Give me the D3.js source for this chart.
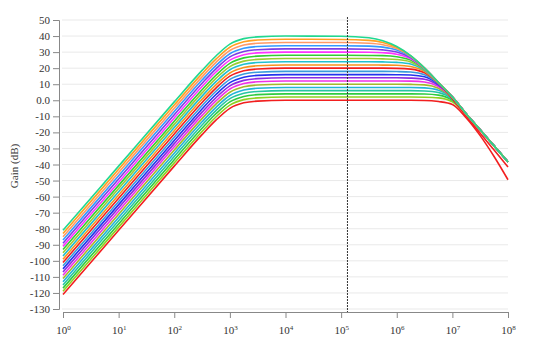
<!DOCTYPE html>
<meta charset="utf-8">
<style>
  body { margin: 0; background: #fff; }
  .axis text { font-family: "Liberation Serif", serif; font-size: 11px; fill: #333; }
  .axis path, .axis line { stroke: #888; }
  .grid line { stroke: #e9e9e9; }
</style>
<body>
<div id="vis"></div>
<script src="https://cdn.jsdelivr.net/npm/d3@7/dist/d3.min.js"></script>
<script>

const width = 550,
    height = 341;

// frequency grid (Hz) shared by all curves
const freqs = [1, 10, 100, 316, 562, 1000, 1778, 3162, 1e4, 1e5, 3.16e5, 5.62e5,
  1e6, 1.78e6, 3.16e6, 5.62e6, 1e7, 1.78e7, 3.16e7, 5.62e7, 1e8];

// gain curves in dB, one per closed-loop gain setting
const g00 = [-121, -81, -41, -21.4, -12.4, -5.0, -1.6, -0.5, 0, 0, 0, 0, 0, 0, -0.1, -0.8, -2.6, -11.0, -22.0, -35.0, -49.5];
const g02 = [-119, -79, -39, -19.4, -10.4, -3.0, 0.4, 1.5, 2, 2, 2, 2, 2.0, 2.0, 1.9, 1.5, -1.0, -8.9, -18.5, -28.4, -38.4];
const g04 = [-117, -77, -37, -17.4, -8.4, -1.0, 2.4, 3.5, 4, 4, 4, 4, 4.0, 4.0, 3.9, 3.2, 0.0, -8.7, -18.5, -28.4, -38.4];
const g06 = [-115, -75, -35, -15.4, -6.4, 1.0, 4.4, 5.5, 6, 6, 6, 6, 6.0, 6.0, 5.8, 4.8, 0.6, -8.6, -18.5, -28.4, -38.4];
const g08 = [-113, -73, -33, -13.4, -4.4, 3.0, 6.4, 7.5, 8, 8, 8, 8, 8.0, 8.0, 7.7, 6.3, 1.1, -8.6, -18.4, -28.4, -38.4];
const g10 = [-111, -71, -31, -11.4, -2.4, 5.0, 8.4, 9.5, 10, 10, 10, 10, 10.0, 9.9, 9.6, 7.5, 1.4, -8.5, -18.4, -28.4, -38.4];
const g12 = [-109, -69, -29, -9.4, -0.4, 7.0, 10.4, 11.5, 12, 12, 12, 12, 12.0, 11.9, 11.4, 8.5, 1.6, -8.5, -18.4, -28.4, -38.4];
const g14 = [-107, -67, -27, -7.4, 1.6, 9.0, 12.4, 13.5, 14, 14, 14, 14, 14.0, 13.8, 13.1, 9.3, 1.8, -8.5, -18.4, -28.4, -38.4];
const g16 = [-105, -65, -25, -5.4, 3.6, 11.0, 14.4, 15.5, 16, 16, 16, 16, 15.9, 15.7, 14.6, 9.9, 1.9, -8.5, -18.4, -28.4, -38.4];
const g18 = [-103, -63, -23, -3.4, 5.6, 13.0, 16.4, 17.5, 18, 18, 18.0, 18.0, 17.9, 17.6, 15.9, 10.3, 2.0, -8.5, -18.4, -28.4, -38.4];
const g20 = [-101, -61, -21, -1.4, 7.6, 15.0, 18.4, 19.5, 20, 20, 20.0, 20.0, 19.9, 19.4, 17.1, 10.6, 1.0, -9.8, -20.5, -31.0, -41.5];
const g22 = [-99, -59, -19, 0.6, 9.6, 17.0, 20.4, 21.5, 22, 22, 22.0, 21.9, 21.8, 21.0, 18.0, 10.7, 2.1, -8.5, -18.4, -28.4, -38.4];
const g24 = [-97, -57, -17, 2.6, 11.6, 19.0, 22.4, 23.5, 24, 24, 24.0, 23.9, 23.6, 22.6, 18.6, 10.9, 2.1, -8.5, -18.4, -28.4, -38.4];
const g26 = [-95, -55, -15, 4.6, 13.6, 21.0, 24.4, 25.5, 26, 26, 26.0, 25.8, 25.4, 23.9, 19.1, 10.9, 2.1, -8.5, -18.4, -28.4, -38.4];
const g28 = [-93, -53, -13, 6.6, 15.6, 23.0, 26.4, 27.5, 28, 28, 27.9, 27.8, 27.1, 25.0, 19.5, 11.0, 2.1, -8.5, -18.4, -28.4, -38.4];
const g30 = [-91, -51, -11, 8.6, 17.6, 25.0, 28.4, 29.5, 30, 30, 29.9, 29.6, 28.7, 25.9, 19.7, 11.0, 2.1, -8.5, -18.4, -28.4, -38.4];
const g32 = [-89, -49, -9, 10.6, 19.6, 27.0, 30.4, 31.5, 32, 32, 31.8, 31.4, 30.1, 26.6, 19.9, 11.0, 2.1, -8.5, -18.4, -28.4, -38.4];
const g34 = [-87, -47, -7, 12.6, 21.6, 29.0, 32.4, 33.5, 34, 34, 33.7, 33.1, 31.3, 27.1, 20.0, 11.1, 2.1, -8.5, -18.4, -28.4, -38.4];
const g36 = [-85, -45, -5, 14.6, 23.6, 31.0, 34.4, 35.5, 36, 36, 35.5, 34.6, 32.2, 27.4, 20.0, 11.1, 2.1, -8.5, -18.4, -28.4, -38.4];
const g38 = [-83, -43, -3, 16.6, 25.6, 33.0, 36.4, 37.5, 38, 37.9, 37.3, 36.0, 33.0, 27.6, 20.1, 11.1, 2.1, -8.5, -18.4, -28.4, -38.4];
const g40 = [-81, -41, -1, 18.6, 27.6, 35.0, 38.4, 39.5, 40, 39.9, 38.9, 37.1, 33.5, 27.8, 20.1, 11.1, 2.1, -8.5, -18.4, -28.4, -38.4];

const curves = [g00, g02, g04, g06, g08, g10, g12, g14, g16, g18, g20,
  g22, g24, g26, g28, g30, g32, g34, g36, g38, g40];

const colors = ['#f21f1f', '#8fd11f', '#2ecc40', '#26c6a0', '#22b5d8', '#a5b82a', '#f032e6',
  '#8a2be2', '#2233ee', '#3a9bdc', '#f21f1f', '#f7931e', '#20c0d0', '#9acd32',
  '#32cd32', '#ff33ff', '#7b3fe4', '#3399ff', '#ff9966', '#ffa020', '#20d890'];

const yTicks = [50, 40, 30, 20, 10, 0, -10, -20, -30, -40, -50, -60, -70, -80, -90, -100, -110, -120, -130];
const xTicks = [1e0, 1e1, 1e2, 1e3, 1e4, 1e5, 1e6, 1e7, 1e8];
const markerFreq = 1.3e5;

const x = d3.scaleLog().domain([1, 1e8]).range([63, 508]);
const y = d3.scaleLinear().domain([-130, 50]).range([309, 20]);

const svg = d3.select('#vis')
    .append('svg')
    .attr('width', width)
    .attr('height', height);

// grid
svg.append('g')
    .attr('class', 'grid')
    .selectAll('line')
    .data(yTicks)
    .enter().append('line')
    .attr('x1', 62)
    .attr('x2', 508)
    .attr('y1', d => y(d))
    .attr('y2', d => y(d));

// y axis
const yAxis = svg.append('g')
    .attr('class', 'axis')
    .attr('transform', 'translate(59,0)')
    .call(d3.axisLeft(y).tickValues(yTicks)
      .tickFormat(d => d === 0 ? '0.0' : String(d)));

// x axis
const xAxis = svg.append('g')
    .attr('class', 'axis')
    .attr('transform', 'translate(0,312)')
    .call(d3.axisBottom(x).tickValues(xTicks).tickFormat(''));

xAxis.selectAll('.tick').append('text')
    .attr('y', 22)
    .attr('fill', '#333')
    .style('text-anchor', 'middle')
    .each(function(d) {
      let t = d3.select(this);
      t.append('tspan').text('10');
      t.append('tspan')
        .attr('dy', -4)
        .style('font-size', '7px')
        .text(Math.round(Math.log10(d)));
    });

svg.append('text')
    .attr('transform', 'translate(18,166) rotate(-90)')
    .style('font-family', '"Liberation Serif", serif')
    .style('font-size', '11px')
    .style('fill', '#333')
    .style('text-anchor', 'middle')
    .text('Gain (dB)');

// curves
const line = d3.line()
    .x((d, i) => x(freqs[i]))
    .y(d => y(d))
    .curve(d3.curveMonotoneX);

svg.append('g')
    .selectAll('path')
    .data(curves)
    .enter().append('path')
    .attr('d', d => line(d))
    .style('fill', 'none')
    .style('stroke', (d, i) => colors[i])
    .style('stroke-width', 1.6);

// marker line
svg.append('line')
    .attr('x1', x(markerFreq))
    .attr('x2', x(markerFreq))
    .attr('y1', 17)
    .attr('y2', 312)
    .style('stroke', '#333')
    .style('stroke-width', 1)
    .style('stroke-dasharray', '2,1');

</script>
</body>
